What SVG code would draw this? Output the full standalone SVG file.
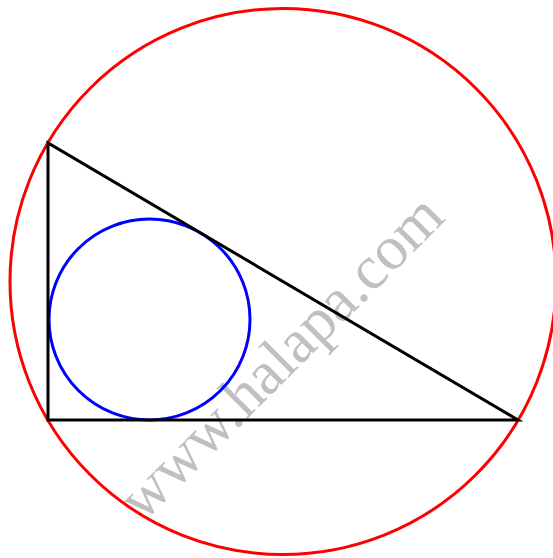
<svg xmlns="http://www.w3.org/2000/svg" width="553" height="558" viewBox="0 0 553 558">
<style>
.wm{font-family:"Liberation Serif","Times New Roman",serif;font-size:62px;fill:#c0c0c0}
.tri{fill:none;stroke:#000;stroke-width:3;stroke-linejoin:miter}
.circ{fill:none;stroke:#f00;stroke-width:3}
.inc{fill:none;stroke:#00f;stroke-width:3}
</style>
<rect width="553" height="558" fill="#fff"/>
<g id="watermark"><text class="wm" transform="translate(295,371) rotate(-45)" text-anchor="middle">www.halapa.com</text></g>
<g id="circumcircle"><circle class="circ" cx="283" cy="281.5" r="273"/></g>
<g id="incircle"><circle class="inc" cx="149.5" cy="319.5" r="100.5"/></g>
<g id="triangle"><polygon class="tri" points="48,143 48,420 518,420"/></g>
</svg>
